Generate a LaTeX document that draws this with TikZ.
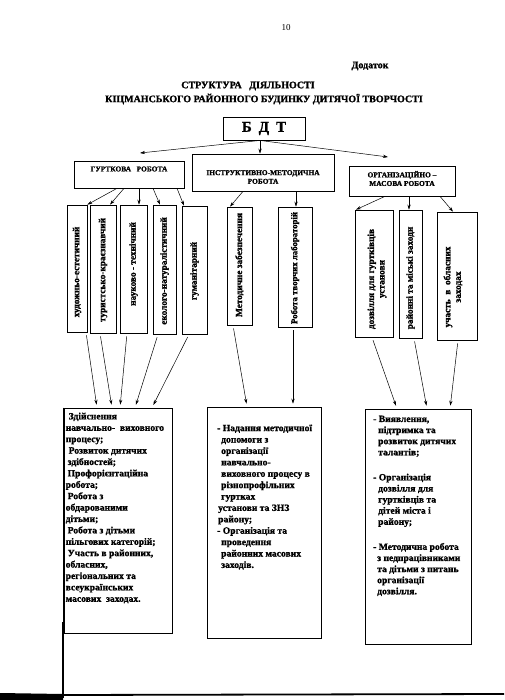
\documentclass[tikz,border=0pt]{standalone}
\usepackage{fontspec}
\setmainfont{Liberation Serif}[BoldFeatures={FakeBold=1.2}]
\usetikzlibrary{arrows.meta,calc}
\begin{document}
\begin{tikzpicture}[x=1pt,y=-1pt,
  box/.style={draw, line width=0.7pt, inner sep=0pt},
  arr/.style={-{Stealth[length=5pt,width=3.2pt]}, line width=0.5pt},
  hdr/.style={font=\bfseries\fontsize{7.4}{8.6}\selectfont, align=center, inner sep=0pt},
  vtxt/.style={rotate=90, font=\bfseries\fontsize{9.3}{10.5}\selectfont, align=center, inner sep=0pt},
  body/.style={font=\bfseries\fontsize{9.6}{11.4}\selectfont, align=left, inner sep=0pt, anchor=north west},
  ttl/.style={font=\bfseries\fontsize{10}{12}\selectfont, inner sep=0pt}
]
\useasboundingbox (0,0) rectangle (504,700);
\fill[white] (0,0) rectangle (504,700);

% header texts
\node[font=\fontsize{9}{10}\selectfont, inner sep=0pt] (pnum) at (286,28) {10};
\node[ttl] (dod) at (370,66) {Додаток};
\node[ttl] (title1) at (248,86) {СТРУКТУРА\ \ \ ДІЯЛЬНОСТІ};
\node[ttl] (title2) at (264,99) {КІЦМАНСЬКОГО РАЙОННОГО БУДИНКУ ДИТЯЧОЇ ТВОРЧОСТІ};

% top box
\node[box, line width=0.9pt, minimum width=82, minimum height=23,
      font=\bfseries\fontsize{15}{16}\selectfont] (bdt) at (264,128.5)
      {Б\hspace{7pt}Д\hspace{7pt}Т};

% second level boxes
\node[box, minimum width=110, minimum height=27] (gur) at (129,174.5) {};
\node[hdr] (gurt) at (129,169) {ГУРТКОВА\ \ \ РОБОТА};
\node[box, minimum width=142, minimum height=37] (inst) at (263,172.5) {};
\node[hdr] (instt) at (263,177) {ІНСТРУКТИВНО-МЕТОДИЧНА\\РОБОТА};
\node[box, minimum width=106, minimum height=30] (org) at (402,181) {};
\node[hdr] (orgt) at (402,178.5) {ОРГАНІЗАЦІЙНО –\\МАСОВА РОБОТА};

\coordinate (gurin) at (140,153);
\coordinate (orgin) at (388,157);
\draw[arr] (260,0 |- bdt.south) -- (gurin);
\draw[arr] (260,0 |- bdt.south) -- (260,0 |- inst.north);
\draw[arr] (260,0 |- bdt.south) -- (orgin);

% vertical boxes
\node[box, minimum width=20, minimum height=127] (g1) at (77,268.5) {};
\node[box, minimum width=26, minimum height=128] (g2) at (103,269) {};
\node[box, minimum width=27, minimum height=128] (g3) at (133.5,269) {};
\node[box, minimum width=23, minimum height=129] (g4) at (164.5,269.5) {};
\node[box, minimum width=25, minimum height=128] (g5) at (194.5,270) {};
\node[box, minimum width=25, minimum height=118] (m1) at (239.5,266) {};
\node[box, minimum width=34, minimum height=120] (m2) at (295,267) {};
\node[box, minimum width=38, minimum height=127] (o1) at (374,273.5) {};
\node[box, minimum width=23, minimum height=128] (o2) at (410.5,274) {};
\node[box, minimum width=40, minimum height=128] (o3) at (457,276) {};

\node[vtxt] (g1t) at (77,272) {художньо-естетичний};
\node[vtxt] (g2t) at (103,270) {туристсько-краєзнавчий};
\node[vtxt] (g3t) at (133.5,264) {науково - технічний};
\node[vtxt] (g4t) at (164.5,271) {еколого-натуралістичний};
\node[vtxt] (g5t) at (194.5,271) {гуманітарний};
\node[vtxt] (m1t) at (239.5,265) {Методичне забезпечення};
\node[vtxt, font=\bfseries\fontsize{8.8}{10}\selectfont] (m2t) at (295,268) {Робота творчих лабораторій};
\node[vtxt] (o1t) at (377,279) {дозвілля для гуртківців\\установи};
\node[vtxt] (o2t) at (410.5,278) {районні та міські заходи};
\node[vtxt] (o3t) at (453,287) {участь\ \ в\ \ обласних\\заходах};

% arrows to vertical boxes
\draw[arr] (117,0 |- gur.south) -- (g1.north east);
\draw[arr] (124,0 |- gur.south) -- (110,0 |- g2.north);
\draw[arr] (139,0 |- gur.south) -- (139,0 |- g3.north);
\draw[arr] (153,0 |- gur.south) -- (160,0 |- g4.north);
\draw[arr] (177,0 |- gur.south) -- (184,0 |- g5.north);
\draw[arr] (243,0 |- inst.south) -- (230,0 |- m1.north);
\draw[arr] (296,0 |- inst.south) -- (296,0 |- m2.north);
\draw[arr] (385,0 |- org.south) -- (356,0 |- o1.north);
\draw[arr] (409,0 |- org.south) -- (409,0 |- o2.north);
\draw[arr] (440,0 |- org.south) -- (453,0 |- o3.north);

% bottom boxes
\node[box, minimum width=108, minimum height=225] (L) at (118,520.5) {};
\node[box, minimum width=114, minimum height=231] (M) at (264,522.5) {};
\node[box, minimum width=106, minimum height=235] (R) at (418,526.5) {};
\draw[line width=1.6pt] (L.north west) -- (L.south west);

\node[body] (Lt) at (65.5,412.5) {\hspace*{3pt}Здійснення\\
навчально-\ \ виховного\\
процесу;\\
\hspace*{3pt}Розвиток дитячих\\
\hspace*{2pt}здібностей;\\
\hspace*{2pt}Профорієнтаційна\\
робота;\\
\hspace*{2pt}Робота з\\
обдарованими\\
дітьми;\\
\hspace*{2pt}Робота з дітьми\\
пільгових категорій;\\
\hspace*{2pt}Участь в районних,\\
обласних,\\
регіональних та\\
всеукраїнських\\
масових\ \ заходах.};

\node[body] (Mt) at (217,424.5) {- Надання методичної\\
\hspace*{4pt}допомоги з\\
\hspace*{4pt}організації\\
\hspace*{4pt}навчально-\\
\hspace*{4pt}виховного процесу в\\
\hspace*{4pt}різнопрофільних\\
\hspace*{4pt}гуртках\\
\hspace*{1pt}установи та ЗНЗ\\
\hspace*{1pt}району;\\
- Організація та\\
\hspace*{4pt}проведення\\
\hspace*{4pt}районних масових\\
\hspace*{4pt}заходів.};

\node[body, font=\bfseries\fontsize{9.6}{11.1}\selectfont] (Rt) at (373,415.5) {- Виявлення,\\
\hspace*{5pt}підтримка та\\
\hspace*{5pt}розвиток дитячих\\
\hspace*{5pt}талантів;\\[14pt]
- Організація\\
\hspace*{5pt}дозвілля для\\
\hspace*{5pt}гуртківців та\\
\hspace*{5pt}дітей міста і\\
\hspace*{5pt}району;\\[14pt]
- Методична робота\\
\hspace*{4pt}з педпрацівниками\\
\hspace*{4pt}та дітьми з питань\\
\hspace*{4pt}організації\\
\hspace*{4pt}дозвілля.};

% arrows to bottom boxes
\draw[arr, shorten <=3pt, shorten >=3pt] (86,0 |- g1.south) -- (97,0 |- L.north);
\draw[arr, shorten <=3pt, shorten >=3pt] (100,0 |- g2.south) -- (112,0 |- L.north);
\draw[arr, shorten <=3pt, shorten >=3pt] (127,0 |- g3.south) -- (120,0 |- L.north);
\draw[arr, shorten <=3pt, shorten >=3pt] (158,0 |- g4.south) -- (135,0 |- L.north);
\draw[arr, shorten <=3pt, shorten >=3pt] (189,0 |- g5.south) -- (152,0 |- L.north);
\draw[arr, shorten <=3pt, shorten >=3pt] (233,0 |- m1.south) -- (247,0 |- M.north);
\draw[arr, shorten <=3pt, shorten >=3pt] (293,0 |- m2.south) -- (293,0 |- M.north);
\draw[arr, shorten <=3pt, shorten >=3pt] (372,0 |- o1.south) -- (397,0 |- R.north);
\draw[arr, shorten <=3pt, shorten >=3pt] (414,0 |- o2.south) -- (427,0 |- R.north);
\draw[arr, shorten <=3pt, shorten >=3pt] (458,0 |- o3.south) -- (450,0 |- R.north);

% scan edge marks
\draw[line width=1.5pt] (63,622) -- (63,698);
\fill[black] (0,693) -- (63,694) -- (63,700) -- (0,700) -- cycle;
\draw[line width=1.8pt] (63,695) -- (504,694);
\end{tikzpicture}
\end{document}
